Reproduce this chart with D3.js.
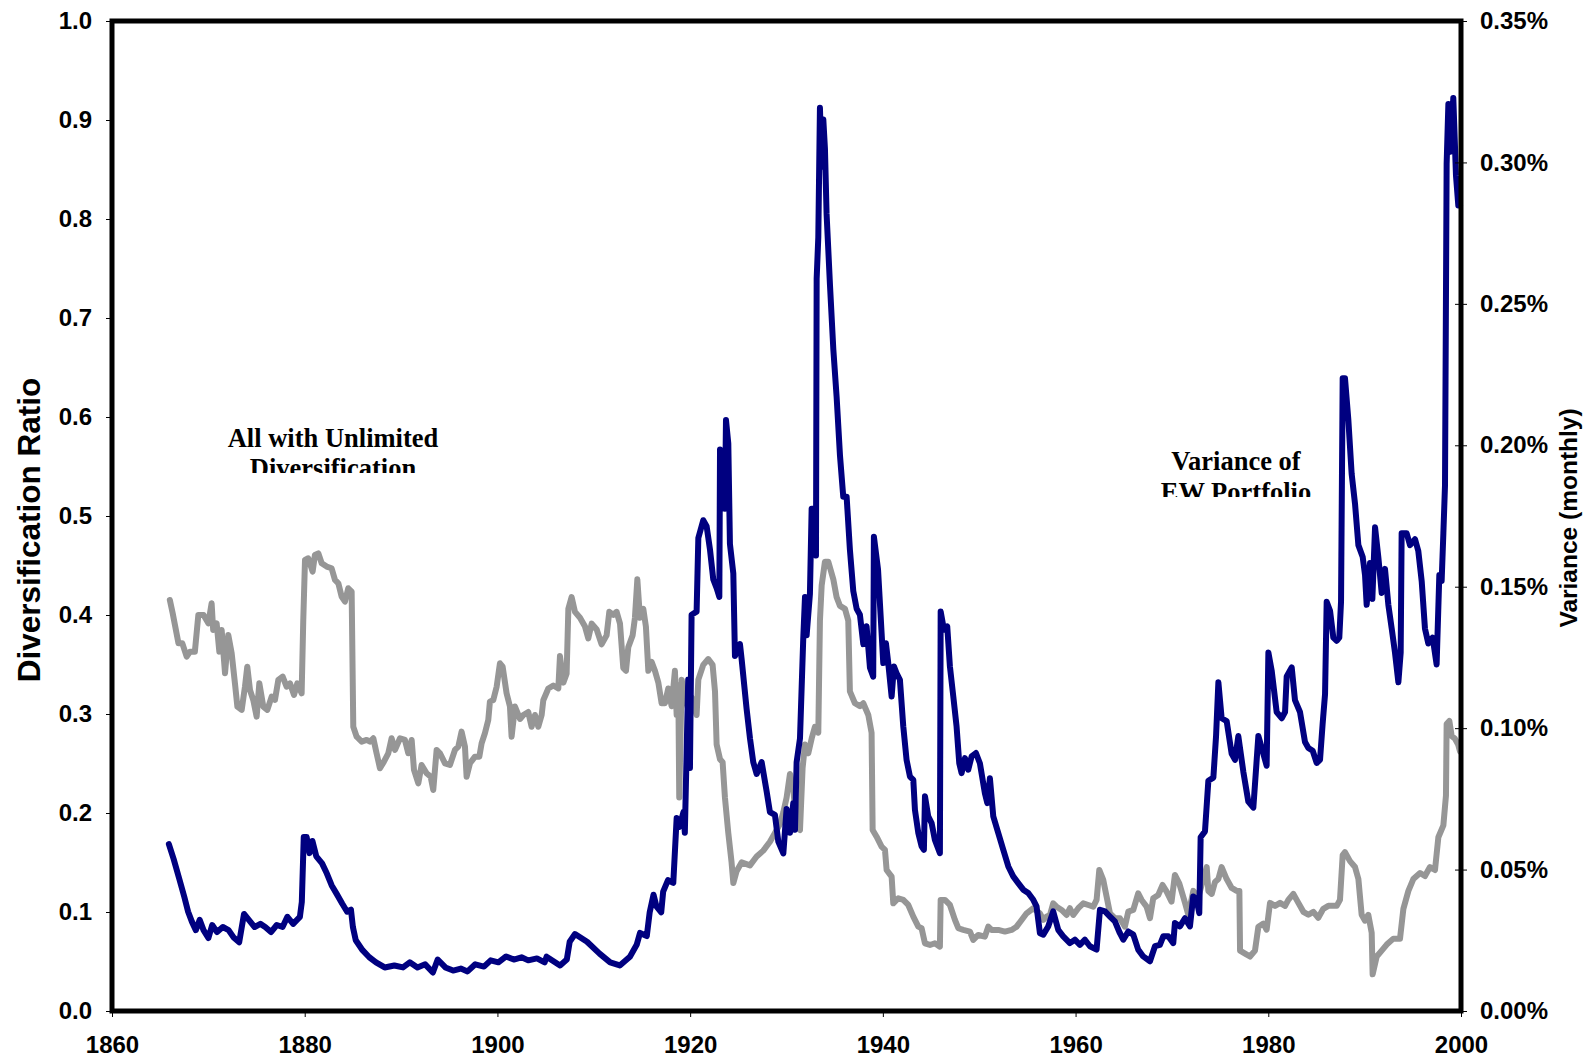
<!DOCTYPE html>
<html>
<head>
<meta charset="utf-8">
<script src="https://cdn.jsdelivr.net/npm/d3@7"></script>
<style>
  body { margin: 0; background: #fff; }
  .tick text { font-family: "Liberation Sans", Arial, sans-serif; font-weight: bold; font-size: 24px; fill: #000; }
  .tick line { stroke: #000; stroke-width: 1; }
</style>
</head>
<body>
<div id="chart"></div>
<script>
// Diversification ratio (left axis), gray line
const ratioYears = [1866.0,1866.3,1866.5,1866.9,1867.3,1867.75,1868.1,1868.6,1868.96,1869.5,1870.0,1870.34,1870.5,1870.86,1871.14,1871.38,1871.73,1872.07,1872.42,1872.76,1873.01,1873.46,1873.8,1874.04,1874.32,1874.66,1875.01,1875.29,1875.7,1876.12,1876.57,1876.91,1877.26,1877.71,1878.12,1878.47,1878.89,1879.23,1879.68,1879.85,1880.03,1880.37,1880.82,1881.06,1881.41,1881.76,1882.28,1882.79,1883.14,1883.49,1883.83,1884.18,1884.52,1884.87,1885.04,1885.39,1885.91,1886.43,1886.77,1887.12,1887.46,1887.81,1888.22,1888.67,1889.02,1889.37,1889.89,1890.4,1890.75,1891.1,1891.34,1891.79,1892.13,1892.65,1893.07,1893.34,1893.69,1894.04,1894.56,1895.07,1895.59,1895.94,1896.28,1896.63,1896.8,1897.15,1897.67,1898.12,1898.36,1898.7,1899.05,1899.22,1899.57,1899.92,1900.26,1900.54,1900.95,1901.3,1901.47,1901.82,1902.34,1902.69,1903.2,1903.55,1903.9,1904.24,1904.59,1904.76,1905.28,1905.8,1906.32,1906.49,1906.84,1907.18,1907.36,1907.7,1908.05,1908.57,1909.09,1909.43,1909.78,1910.3,1910.81,1911.33,1911.61,1912.03,1912.37,1912.72,1913.06,1913.34,1913.58,1914.03,1914.27,1914.52,1914.79,1915.14,1915.41,1915.66,1916.0,1916.35,1916.7,1917.04,1917.39,1917.73,1918.08,1918.42,1918.6,1918.77,1918.87,1919.12,1919.46,1919.81,1920.15,1920.67,1920.85,1921.36,1921.88,1922.33,1922.58,1922.75,1923.1,1923.37,1923.61,1923.96,1924.3,1924.48,1924.82,1925.34,1926.21,1926.9,1927.59,1928.28,1928.8,1929.32,1929.67,1930.01,1930.36,1930.7,1931.05,1931.4,1931.67,1931.92,1932.26,1932.61,1932.95,1933.3,1933.47,1933.65,1933.99,1934.34,1934.86,1935.2,1935.55,1936.07,1936.41,1936.58,1937.1,1937.62,1937.97,1938.49,1938.83,1938.94,1939.35,1939.87,1940.22,1940.39,1940.91,1941.08,1941.6,1942.12,1942.64,1943.16,1943.68,1944.02,1944.37,1944.89,1945.4,1945.92,1946.0,1946.44,1946.96,1947.48,1947.83,1948.35,1949.04,1949.38,1949.9,1950.59,1950.94,1951.29,1951.98,1952.67,1953.36,1953.88,1954.4,1954.92,1955.61,1956.3,1956.65,1956.99,1957.34,1957.68,1958.03,1958.55,1959.07,1959.41,1959.76,1960.28,1960.8,1961.32,1961.84,1962.18,1962.46,1962.87,1963.22,1963.57,1964.08,1964.6,1965.12,1965.47,1965.99,1966.5,1966.85,1967.37,1967.72,1968.06,1968.58,1969.03,1969.45,1969.96,1970.31,1970.76,1971.36,1971.7,1972.22,1972.74,1973.26,1973.61,1973.78,1974.13,1974.47,1974.82,1975.16,1975.68,1976.2,1976.72,1977.0,1977.07,1977.59,1978.1,1978.62,1978.97,1979.49,1979.83,1980.18,1980.7,1981.22,1981.74,1982.08,1982.6,1983.12,1983.64,1984.16,1984.68,1985.19,1985.71,1986.23,1987.1,1987.44,1987.72,1987.96,1988.48,1989.0,1989.35,1989.69,1990.04,1990.38,1990.73,1990.83,1991.25,1991.77,1992.29,1992.98,1993.67,1994.02,1994.54,1995.05,1995.75,1996.26,1996.78,1997.3,1997.65,1998.17,1998.44,1998.51,1998.79,1999.03,1999.38,1999.72,1999.9];
const ratioValues = [0.4152,0.4017,0.3916,0.3714,0.3714,0.358,0.363,0.363,0.4,0.4,0.3916,0.4118,0.3849,0.3916,0.363,0.3849,0.3411,0.3798,0.3613,0.331,0.3075,0.3041,0.3276,0.3478,0.3243,0.3142,0.2973,0.331,0.3075,0.3041,0.3175,0.3142,0.3344,0.3377,0.3276,0.331,0.3192,0.331,0.3209,0.395,0.4556,0.4573,0.4438,0.4606,0.4623,0.4522,0.4489,0.4472,0.4354,0.432,0.4186,0.4135,0.427,0.4236,0.2872,0.2771,0.2721,0.2738,0.2721,0.2755,0.2603,0.2452,0.2519,0.2603,0.2755,0.2637,0.2755,0.2738,0.2603,0.2738,0.2435,0.23,0.2485,0.2401,0.2367,0.2233,0.2637,0.2603,0.2502,0.2485,0.2637,0.267,0.2822,0.267,0.2367,0.2502,0.2569,0.2569,0.2704,0.2805,0.294,0.3125,0.3142,0.3276,0.3512,0.3478,0.3209,0.3075,0.2771,0.3075,0.295,0.299,0.302,0.2871,0.299,0.2871,0.299,0.3139,0.3258,0.3288,0.3258,0.3585,0.3317,0.3407,0.4062,0.4181,0.4032,0.3972,0.3883,0.3764,0.3913,0.3853,0.3704,0.3794,0.4032,0.4002,0.4032,0.3913,0.3466,0.3436,0.3675,0.3794,0.3972,0.436,0.3972,0.4062,0.3883,0.3436,0.3526,0.3436,0.3317,0.3109,0.3109,0.3258,0.3079,0.3436,0.299,0.3288,0.2156,0.3347,0.3168,0.3049,0.3168,0.299,0.3347,0.3496,0.3555,0.3496,0.3228,0.2692,0.2543,0.2513,0.2156,0.1798,0.1501,0.1292,0.1411,0.1501,0.1471,0.156,0.162,0.1709,0.1798,0.1888,0.2007,0.2156,0.2394,0.2245,0.1858,0.1828,0.2454,0.2692,0.2603,0.2752,0.2871,0.2811,0.3943,0.43,0.4538,0.4538,0.436,0.4181,0.4092,0.4062,0.3943,0.3228,0.3109,0.3079,0.3109,0.299,0.2811,0.1829,0.1761,0.166,0.1627,0.1425,0.1357,0.1088,0.1139,0.1122,0.1071,0.0953,0.0852,0.0836,0.0684,0.0667,0.0684,0.065,0.1122,0.1122,0.1071,0.092,0.0836,0.0819,0.0802,0.0718,0.0768,0.0751,0.0852,0.0819,0.0819,0.0802,0.0819,0.0852,0.092,0.0987,0.1038,0.0987,0.092,0.0953,0.097,0.1088,0.1054,0.1021,0.097,0.1038,0.097,0.1038,0.1088,0.1071,0.1054,0.1122,0.1425,0.1324,0.1155,0.0987,0.0937,0.0937,0.0852,0.1004,0.1021,0.1189,0.1122,0.1054,0.0937,0.1139,0.1172,0.1273,0.1206,0.1105,0.1374,0.129,0.1092,0.0972,0.1213,0.1153,0.1333,0.1454,0.1213,0.1183,0.1303,0.1333,0.1454,0.1333,0.1243,0.1213,0.1213,0.061,0.058,0.055,0.061,0.0851,0.0882,0.0821,0.1092,0.1062,0.1092,0.1062,0.1122,0.1183,0.1092,0.1002,0.0972,0.1002,0.0942,0.1032,0.1062,0.1062,0.1122,0.1574,0.1604,0.1514,0.1454,0.1333,0.0972,0.0912,0.0972,0.0791,0.037,0.055,0.061,0.0671,0.0731,0.0731,0.1032,0.1213,0.1333,0.1394,0.1363,0.1454,0.1424,0.1755,0.1875,0.2177,0.2899,0.2929,0.2779,0.2749,0.2688,0.262];

// Variance of EW portfolio, monthly, in percent (right axis), navy line
const varYears = [1865.9,1866.4,1867.0,1867.5,1867.9,1868.3,1868.7,1869.1,1869.5,1870.0,1870.4,1870.9,1871.5,1872.1,1872.6,1873.2,1873.7,1874.2,1874.8,1875.4,1875.9,1876.5,1877.1,1877.7,1878.2,1878.8,1879.5,1879.7,1879.9,1880.2,1880.5,1880.8,1881.2,1881.8,1882.3,1882.8,1883.3,1883.9,1884.4,1884.8,1885.0,1885.3,1886.0,1886.7,1887.4,1888.3,1889.3,1890.2,1890.9,1891.7,1892.5,1893.3,1893.8,1894.6,1895.4,1896.2,1896.9,1897.7,1898.6,1899.3,1900.1,1900.9,1901.7,1902.5,1903.2,1904.1,1904.9,1905.1,1906.5,1907.2,1907.5,1908.05,1909.3,1910.6,1911.7,1912.7,1913.75,1914.45,1914.8,1915.5,1915.8,1916.2,1916.5,1917.0,1917.2,1917.7,1918.25,1918.6,1918.9,1919.3,1919.45,1919.8,1919.98,1920.15,1920.67,1920.85,1921.36,1921.71,1922.06,1922.4,1922.75,1923.03,1923.1,1923.27,1923.44,1923.61,1923.72,1923.96,1924.13,1924.48,1924.65,1925.17,1925.34,1925.86,1926.21,1926.55,1926.9,1927.42,1927.94,1928.28,1928.8,1929.15,1929.67,1930.01,1930.36,1930.7,1930.88,1931.05,1931.4,1931.74,1931.92,1932.09,1932.43,1932.61,1932.78,1933.06,1933.13,1933.3,1933.47,1933.65,1933.82,1933.99,1934.16,1934.51,1934.86,1935.2,1935.55,1935.89,1936.24,1936.58,1936.93,1937.28,1937.62,1937.97,1938.31,1938.66,1939.0,1939.07,1939.5,1939.87,1940.04,1940.32,1940.56,1940.91,1941.15,1941.43,1941.77,1942.12,1942.46,1942.81,1943.16,1943.33,1943.68,1944.02,1944.26,1944.37,1944.71,1945.06,1945.4,1945.92,1946.0,1946.34,1946.68,1946.96,1947.31,1947.65,1947.93,1948.17,1948.52,1948.86,1949.21,1949.66,1950.07,1950.59,1950.84,1951.11,1951.46,1951.98,1952.5,1953.02,1953.53,1954.05,1954.57,1955.09,1955.61,1955.95,1956.3,1956.65,1957.16,1957.68,1958.2,1958.72,1959.41,1959.93,1960.45,1960.97,1961.49,1962.18,1962.53,1963.05,1963.57,1964.08,1964.6,1964.95,1965.47,1965.99,1966.5,1967.02,1967.72,1968.24,1968.75,1969.1,1969.62,1970.14,1970.31,1970.83,1971.35,1971.87,1972.21,1972.56,1972.84,1972.98,1973.43,1973.78,1974.3,1974.58,1974.82,1975.16,1975.68,1976.2,1976.55,1976.89,1977.41,1977.93,1978.45,1978.97,1979.32,1979.83,1980.01,1980.35,1980.87,1981.39,1981.74,1981.91,1982.43,1982.77,1983.29,1983.81,1984.16,1984.61,1985.02,1985.37,1985.64,1985.89,1986.06,1986.41,1986.75,1987.1,1987.37,1987.55,1987.72,1987.96,1988.31,1988.65,1989.0,1989.35,1989.8,1990.04,1990.21,1990.56,1990.8,1991.08,1991.42,1991.77,1992.11,1992.46,1992.81,1993.15,1993.5,1993.74,1993.84,1994.36,1994.71,1995.23,1995.57,1995.92,1996.26,1996.61,1997.06,1997.47,1997.75,1997.99,1998.17,1998.34,1998.51,1998.69,1998.93,1999.2,1999.48,1999.72,1999.9];
const varValues = [0.059,0.0537,0.0465,0.0404,0.0351,0.0315,0.0286,0.0322,0.0286,0.0258,0.0304,0.0279,0.0297,0.0286,0.0261,0.0243,0.0343,0.0322,0.0297,0.0308,0.0297,0.0279,0.0304,0.0297,0.0333,0.0308,0.0333,0.0386,0.0615,0.0615,0.0558,0.0601,0.0547,0.0522,0.0486,0.0444,0.0415,0.0379,0.0351,0.0358,0.0297,0.025,0.0215,0.019,0.0172,0.0154,0.0161,0.0154,0.0172,0.0154,0.0165,0.0136,0.0182,0.0154,0.0143,0.015,0.014,0.0165,0.0157,0.0179,0.0172,0.0193,0.0182,0.019,0.0179,0.0186,0.0172,0.0192,0.0161,0.0182,0.0245,0.0272,0.0245,0.0203,0.0172,0.0161,0.0192,0.0234,0.0276,0.0265,0.0349,0.0411,0.037,0.0349,0.0422,0.0463,0.0453,0.0682,0.0651,0.0703,0.063,0.1172,0.0859,0.1401,0.1412,0.1672,0.1735,0.1714,0.1631,0.1526,0.1495,0.1464,0.1985,0.1797,0.1964,0.1776,0.2089,0.2006,0.1651,0.1547,0.1255,0.1297,0.1245,0.1068,0.0964,0.088,0.0838,0.088,0.0776,0.0703,0.0693,0.0599,0.0557,0.0714,0.063,0.0734,0.0641,0.088,0.0964,0.1318,0.1464,0.1328,0.1474,0.1776,0.1776,0.161,0.2589,0.2735,0.3193,0.2985,0.3152,0.3048,0.2818,0.2568,0.2339,0.2172,0.1964,0.1818,0.1818,0.1631,0.1485,0.1422,0.1401,0.1297,0.136,0.1214,0.1182,0.1677,0.156,0.1336,0.123,0.13,0.123,0.1112,0.1218,0.1194,0.1171,0.1006,0.0888,0.0829,0.0817,0.0711,0.0629,0.0582,0.057,0.0759,0.0688,0.0664,0.0605,0.0558,0.1412,0.1348,0.136,0.1218,0.1112,0.1006,0.0876,0.0841,0.0894,0.0853,0.09,0.0912,0.0876,0.077,0.0735,0.0823,0.0688,0.0629,0.057,0.0511,0.0476,0.0452,0.0429,0.0417,0.0393,0.037,0.0275,0.027,0.0299,0.0352,0.0287,0.0264,0.024,0.0252,0.0234,0.0252,0.0229,0.0217,0.0358,0.0352,0.0334,0.0317,0.0275,0.0252,0.0281,0.027,0.0217,0.0193,0.0176,0.0229,0.0234,0.0264,0.0264,0.024,0.0311,0.0299,0.0328,0.0299,0.0405,0.0393,0.0346,0.0614,0.0635,0.0814,0.0825,0.0972,0.1162,0.1035,0.1025,0.0909,0.0888,0.0972,0.0846,0.074,0.0719,0.0972,0.093,0.0867,0.1267,0.1204,0.1057,0.1035,0.1057,0.1183,0.1215,0.1099,0.1057,0.0951,0.093,0.092,0.0877,0.0888,0.1015,0.112,0.1447,0.1415,0.132,0.1309,0.132,0.1447,0.2237,0.2237,0.2089,0.19,0.1794,0.1647,0.1605,0.1541,0.1436,0.1584,0.1457,0.171,0.1605,0.1478,0.1563,0.1436,0.1352,0.1267,0.1162,0.1267,0.1689,0.1689,0.1647,0.1668,0.1626,0.152,0.1352,0.1299,0.132,0.1225,0.1541,0.152,0.1689,0.1858,0.2996,0.3207,0.3038,0.3228,0.2954,0.2848,0.285];

// Axis ticks
const yearTicks = [1860, 1880, 1900, 1920, 1940, 1960, 1980, 2000];
const ratioTicks = [0, 0.1, 0.2, 0.3, 0.4, 0.5, 0.6, 0.7, 0.8, 0.9, 1.0];
const varTicks = [0, 0.05, 0.10, 0.15, 0.20, 0.25, 0.30, 0.35];

let width = 1587, height = 1059;
let plotLeft = 112, plotRight = 1461, plotTop = 21, plotBottom = 1011;

let svg = d3.select("#chart")
    .append("svg")
    .attr("width", width)
    .attr("height", height)
    .style("display", "block");

svg.append("rect").attr("width", width).attr("height", height).attr("fill", "#fff");

// Scales
let x = d3.scaleLinear().domain([1860, 2000]).range([plotLeft, plotRight]);
let yLeft = d3.scaleLinear().domain([0, 1]).range([plotBottom, plotTop]);
let yRight = d3.scaleLinear().domain([0, 0.35]).range([plotBottom, plotTop]);

// Lines
let ratioLine = d3.line()
    .x((d, i) => x(ratioYears[i]))
    .y(d => yLeft(d));

let varLine = d3.line()
    .x((d, i) => x(varYears[i]))
    .y(d => yRight(d));

svg.append("path")
    .attr("d", ratioLine(ratioValues))
    .attr("fill", "none")
    .attr("stroke", "#969696")
    .attr("stroke-width", 6)
    .attr("stroke-linejoin", "round")
    .attr("stroke-linecap", "round");

svg.append("path")
    .attr("d", varLine(varValues))
    .attr("fill", "none")
    .attr("stroke", "#000080")
    .attr("stroke-width", 6)
    .attr("stroke-linejoin", "round")
    .attr("stroke-linecap", "round");

// Axes
let leftAxis = svg.append("g")
    .attr("transform", `translate(${plotLeft},0)`)
    .call(d3.axisLeft(yLeft).tickValues(ratioTicks).tickFormat(d3.format(".1f"))
        .tickSizeInner(6).tickSizeOuter(0).tickPadding(14));
leftAxis.select(".domain").remove();

let bottomAxis = svg.append("g")
    .attr("transform", `translate(0,${plotBottom})`)
    .call(d3.axisBottom(x).tickValues(yearTicks).tickFormat(d3.format("d"))
        .tickSizeInner(6).tickSizeOuter(0).tickPadding(19));
bottomAxis.select(".domain").remove();

let rightAxis = svg.append("g")
    .attr("transform", `translate(${plotRight},0)`)
    .call(d3.axisRight(yRight).tickValues(varTicks).tickFormat(d => d3.format(".2f")(d) + "%")
        .tickSizeInner(6).tickSizeOuter(0).tickPadding(13));
rightAxis.select(".domain").remove();
// right ticks cross the frame
rightAxis.selectAll(".tick line").attr("x1", -6);

// Plot frame
svg.append("rect")
    .attr("x", plotLeft)
    .attr("y", plotTop)
    .attr("width", plotRight - plotLeft)
    .attr("height", plotBottom - plotTop)
    .attr("fill", "none")
    .attr("stroke", "#000")
    .attr("stroke-width", 5);

// Axis titles
svg.append("text")
    .attr("transform", "translate(40,530) rotate(-90)")
    .attr("text-anchor", "middle")
    .style("font-family", "'Liberation Sans', Arial, sans-serif")
    .style("font-weight", "bold")
    .style("font-size", "31.5px")
    .text("Diversification Ratio");

svg.append("text")
    .attr("transform", "translate(1577,518) rotate(-90)")
    .attr("text-anchor", "middle")
    .style("font-family", "'Liberation Sans', Arial, sans-serif")
    .style("font-weight", "bold")
    .style("font-size", "24.5px")
    .text("Variance (monthly)");

// Annotation boxes (second line is cut off by the box)
let defs = svg.append("defs");
defs.append("clipPath").attr("id", "clipA")
    .append("rect").attr("x", 150).attr("y", 400).attr("width", 380).attr("height", 73);
defs.append("clipPath").attr("id", "clipB")
    .append("rect").attr("x", 1100).attr("y", 420).attr("width", 260).attr("height", 77);

function note(lines, cx, y0, gap, clip) {
    let t = svg.append("text")
        .attr("clip-path", `url(#${clip})`)
        .attr("text-anchor", "middle")
        .style("font-family", "'Liberation Serif', 'Times New Roman', serif")
        .style("font-weight", "bold")
        .style("font-size", "26.5px");
    lines.forEach((s, i) => {
        t.append("tspan").attr("x", cx).attr("y", y0 + i * gap).text(s);
    });
}

note(["All with Unlimited", "Diversification"], 333, 447, 29.5, "clipA");
note(["Variance of", "EW Portfolio"], 1236, 470, 31, "clipB");
</script>
</body>
</html>
